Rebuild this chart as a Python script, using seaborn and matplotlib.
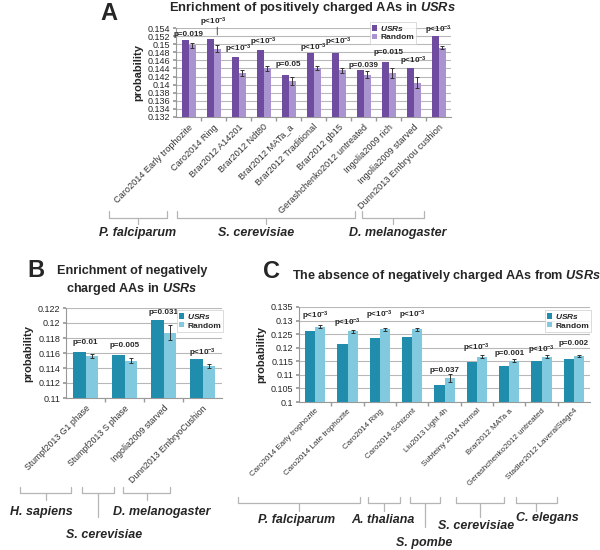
import numpy as np
import pandas as pd
import matplotlib
matplotlib.use("Agg")
import matplotlib.pyplot as plt
import seaborn as sns
from matplotlib.ticker import MultipleLocator, FuncFormatter
from matplotlib.transforms import blended_transform_factory

# ---------------- data ----------------
a_labels = ["Caro2014 Early trophozite", "Caro2014 Ring", "Brar2012 A14201", "Brar2012 Ndt80",
            "Brar2012 MATa_a", "Brar2012 Traditional", "Brar2012 gb15", "Gerashchenko2012 untreated",
            "Ingolia2009 rich", "Ingolia2009 starved", "Dunn2013 Embryou cushion"]
a_usr = [0.1511, 0.1513, 0.1469, 0.1485, 0.1424, 0.1478, 0.1478, 0.1436, 0.1456, 0.1442, 0.1519]
a_rand = [0.1497, 0.1489, 0.1429, 0.1440, 0.1409, 0.1442, 0.1436, 0.1425, 0.1429, 0.1405, 0.1491]
a_err = [0.0007, 0.0008, 0.0007, 0.0006, 0.0010, 0.0005, 0.0006, 0.0008, 0.0012, 0.0014, 0.0004]
a_p = ["p=0.019", "p<10$^{-3}$", "p<10$^{-3}$", "p<10$^{-3}$", "p=0.05", "p<10$^{-3}$",
       "p<10$^{-3}$", "p=0.039", "p=0.015", "p<10$^{-3}$", "p<10$^{-3}$"]

b_labels = ["Stumpf2013 G1 phase", "Stumpf2013 S phase", "Ingolia2009 starved", "Dunn2013 EmbryoCushion"]
b_usr = [0.1162, 0.1157, 0.1204, 0.1152]
b_rand = [0.1156, 0.1150, 0.1187, 0.1143]
b_err = [0.0003, 0.0003, 0.0010, 0.0003]
b_p = ["p=0.01", "p=0.005", "p=0.031", "p<10$^{-3}$"]

c_labels = ["Caro2014 Early trophozite", "Caro2014 Late trophozite", "Caro2014 Ring", "Caro2014 Schizont",
            "Liu2013 Light 4h", "Subteiny 2014 Normal", "Brar2012 MATa a", "Gerashchenko2012 untreated",
            "Stadler2012 LaveralStage4"]
c_usr = [0.1262, 0.1214, 0.1235, 0.1241, 0.1064, 0.1146, 0.1133, 0.1151, 0.1159]
c_rand = [0.1278, 0.1260, 0.1268, 0.1268, 0.1089, 0.1167, 0.1152, 0.1167, 0.1171]
c_err = [0.0004, 0.0004, 0.0005, 0.0005, 0.0014, 0.0006, 0.0006, 0.0005, 0.0004]
c_p = ["p<10$^{-3}$", "p<10$^{-3}$", "p<10$^{-3}$", "p<10$^{-3}$", "p=0.037", "p<10$^{-3}$",
       "p=0.001", "p<10$^{-3}$", "p=0.002"]

series = ["USRs", "Random"]

# ---------------- annotation layout ----------------
a_p_y = [0.1525, 0.1553, 0.1487, 0.1505, 0.1450, 0.1490, 0.1505, 0.1447, 0.1480, 0.1457, 0.1534]
b_p_y = [0.1174, 0.1170, 0.1214, 0.1160]
c_p_y = [0.1315, 0.1288, 0.1318, 0.1318, 0.1117, 0.1198, 0.1179, 0.1192, 0.1216]

# (name, x0, x1, y_end, y_line, y_stem, text_x, text_y) ; x in category units, y in pixels
a_brackets = [("P. falciparum", -3.2, -0.85, 211, 218, 224, -2.05, 233),
              ("S. cerevisiae", -0.47, 6.64, 211, 218, 224, 2.69, 233),
              ("D. melanogaster", 6.95, 9.4, 211, 218, 224, 8.36, 233)]
b_brackets = [("H. sapiens", -1.68, -0.36, 487, 493, 500, -1.12, 512),
              ("S. cerevisiae", -0.1, 0.74, 487, 493, 517, 0.47, 535),
              ("D. melanogaster", 0.96, 2.17, 487, 493, 500, 1.96, 512)]
c_brackets = [("P. falciparum", -2.38, 1.38, 497, 503, 511, -0.59, 520),
              ("A. thaliana", 1.63, 2.62, 497, 503, 511, 2.09, 520),
              ("S. pombe", 2.93, 3.86, 497, 503, 527, 3.36, 543),
              ("S. cerevisiae", 4.36, 5.84, 497, 503, 517, 4.99, 526),
              ("C. elegans", 6.2, 7.47, 497, 503, 511, 7.19, 518)]

W, H = 600, 550
sns.set_theme(style="white")
plt.rcParams["font.family"] = ["Liberation Sans", "DejaVu Sans"]
plt.rcParams["mathtext.fontset"] = "custom"
plt.rcParams["mathtext.rm"] = "Liberation Sans:bold"
plt.rcParams["mathtext.it"] = "Liberation Sans:italic:bold"
plt.rcParams["mathtext.bf"] = "Liberation Sans:bold"

fig = plt.figure(figsize=(W / 100, H / 100), dpi=100)
fig.patch.set_facecolor("white")


def fy(p):
    return 1 - p / H


def panel(rect, labels, usr, rand, err, pvals, p_y, colors, ylim, step, width,
          xfs, legend_anchor, brackets):
    ax = fig.add_axes([rect[0] / W, 1 - rect[3] / H, (rect[2] - rect[0]) / W, (rect[3] - rect[1]) / H])
    n = len(labels)
    df = pd.DataFrame({"label": labels * 2, "prob": usr + rand,
                       "series": [series[0]] * n + [series[1]] * n})
    sns.barplot(data=df, x="label", y="prob", hue="series", palette=colors, width=width,
                errorbar=None, saturation=1, ax=ax, zorder=3, edgecolor="none")
    bars = ax.containers[1]
    xs = [b.get_x() + b.get_width() / 2 for b in bars]
    ax.errorbar(xs, rand, yerr=err, fmt="none", ecolor="#333333", elinewidth=0.7,
                capsize=1.6, capthick=0.7, zorder=4)
    ax.set_ylim(*ylim)
    ax.yaxis.set_major_locator(MultipleLocator(step))
    ax.yaxis.set_major_formatter(FuncFormatter(lambda v, _: f"{round(v, 4):g}"))
    ax.yaxis.grid(True, color="#b8b8b8", lw=0.8)
    ax.set_axisbelow(True)
    for s in ["top", "right"]:
        ax.spines[s].set_visible(False)
    for s in ["left", "bottom"]:
        ax.spines[s].set_color("#999999")
        ax.spines[s].set_linewidth(0.8)
    ax.tick_params(axis="y", labelsize=6.5, length=2.5, color="#999999", pad=1.5, left=True)
    ax.set_xticks(range(n))
    ax.set_xticklabels(labels, rotation=45, ha="right", rotation_mode="anchor", fontsize=xfs,
                       color="#333333")
    ax.tick_params(axis="x", length=0, pad=4)
    ax.set_xticks(np.arange(n - 1) + 0.5, minor=True)
    ax.tick_params(axis="x", which="minor", length=3, color="#999999", bottom=True)
    ax.set_xlabel("")
    ax.set_ylabel("probability", fontsize=8, weight="bold", labelpad=3)
    for i, (t, y) in enumerate(zip(pvals, p_y)):
        ax.text(i, y, t, ha="center", va="center", fontsize=5.8, weight="bold", zorder=5)
    h, _ = ax.get_legend_handles_labels()
    leg = ax.legend(h, ["$\\it{USRs}$", "Random"], loc="upper right",
                    bbox_to_anchor=(legend_anchor[0] / W, fy(legend_anchor[1])),
                    bbox_transform=fig.transFigure, fontsize=6, frameon=True,
                    handlelength=0.6, handleheight=0.6, handletextpad=0.35,
                    borderpad=0.25, labelspacing=0.1, borderaxespad=0, fancybox=False)
    leg.get_frame().set_edgecolor("#cccccc")
    leg.get_frame().set_linewidth(0.6)
    for t in leg.get_texts():
        t.set_weight("bold")
    tr = blended_transform_factory(ax.transData, fig.transFigure)
    for name, x0, x1, ye, yl, ys, tx, ty in brackets:
        xc = (x0 + x1) / 2
        ax.plot([x0, x0, x1, x1], [fy(ye), fy(yl), fy(yl), fy(ye)], transform=tr,
                color="#b5b5b5", lw=0.9, clip_on=False)
        ax.plot([xc, xc], [fy(yl), fy(ys)], transform=tr, color="#b5b5b5", lw=0.9, clip_on=False)
        ax.text(tx, fy(ty), name, transform=tr, ha="center", va="center", fontsize=9,
                style="italic", weight="bold")
    ax.set_xlim(-0.5, n - 0.5)
    return ax


purple = ["#6f4c9f", "#a994d0"]
teal = ["#1f8dab", "#80c9de"]

axA = panel((176, 28, 451, 117), a_labels, a_usr, a_rand, a_err, a_p, a_p_y, purple,
            (0.132, 0.154), 0.002, 0.56, 6.6, (416, 22), a_brackets)
axA.annotate("", xy=(1.15, 0.1516), xytext=(1.15, 0.1549),
             arrowprops=dict(arrowstyle="-", lw=0.6, color="#333333"), annotation_clip=False)

axB = panel((66, 308, 222, 398), b_labels, b_usr, b_rand, b_err, b_p, b_p_y, teal,
            (0.11, 0.122), 0.002, 0.62, 6.3, (223, 310), b_brackets)

axC = panel((299, 307, 590, 402), c_labels, c_usr, c_rand, c_err, c_p, c_p_y, teal,
            (0.1, 0.135), 0.005, 0.62, 5.8, (591, 310), c_brackets)

# titles
fig.text(100 / W, fy(13), "A", fontsize=17, weight="bold", va="center", ha="left")
fig.text(313 / W, fy(8), "Enrichment of positively charged AAs in $\\it{USRs}$",
         fontsize=9.3, weight="bold", ha="center", va="center")
fig.text(27 / W, fy(270), "B", fontsize=17, weight="bold", va="center", ha="left")
fig.text(132 / W, fy(281), "Enrichment of negatively\ncharged AAs in $\\it{USRs}$",
         fontsize=9.1, weight="bold", ha="center", va="center", linespacing=1.35)
fig.text(263 / W, fy(271), "C", fontsize=17, weight="bold", va="center", ha="left")
fig.text(446 / W, fy(276), "The absence of negatively charged AAs from $\\it{USRs}$",
         fontsize=9.1, weight="bold", ha="center", va="center")

fig.savefig("out.png", dpi=100, facecolor="white")
